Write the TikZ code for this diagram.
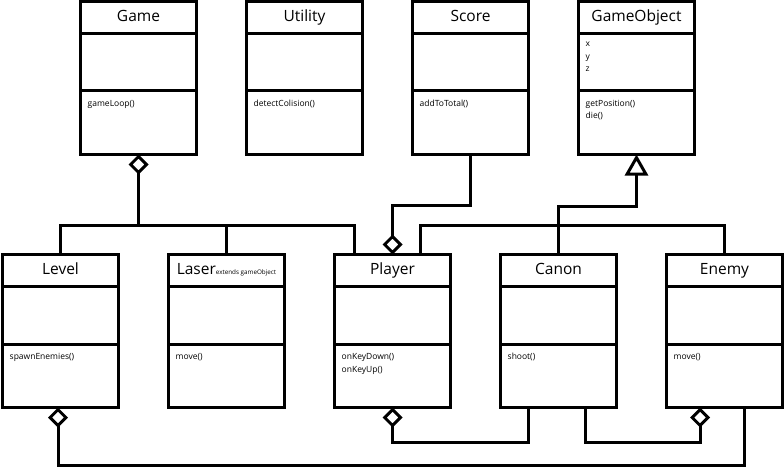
\documentclass[tikz,border=0pt]{standalone}
\usepackage{fontspec}
\setmainfont{Open Sans}
\usepackage{tikz}
\usetikzlibrary{arrows.meta,positioning,calc}
% one UML class: name, left, top, title, attributes, operations
\newcommand{\umlclass}[6]{%
  \node[classbox] (#1) at (#2,#3) {};
  \draw[classline] ([yshift=-32pt]#1.north west) -- ([yshift=-32pt]#1.north east);
  \draw[classline] ([yshift=-89.5pt]#1.north west) -- ([yshift=-89.5pt]#1.north east);
  \node[classtitle] (#1-title) at ([yshift=-20pt]#1.north) {#4};
  \node[classtext] (#1-attr) at ([xshift=7pt,yshift=-45.5pt]#1.north west)
    {\begin{tabular}[t]{@{}l@{}}#5\end{tabular}};
  \node[classtext] (#1-ops) at ([xshift=7pt,yshift=-105pt]#1.north west)
    {\begin{tabular}[t]{@{}l@{}}#6\end{tabular}};
}

\begin{document}
\begin{tikzpicture}[
  x=1pt, y=-1pt,
  classbox/.style={draw, line width=3pt, minimum width=116pt, minimum height=153pt, anchor=north west, inner sep=0pt, outer sep=0pt},
  classline/.style={line width=3pt},
  classtitle/.style={anchor=base, inner sep=0pt, font=\fontsize{15.5}{18}\selectfont},
  classtext/.style={anchor=base west, inner sep=0pt, font=\fontsize{8.5}{12.5}\selectfont},
  conn/.style={line width=3pt},
  agg/.style={line width=3pt, -{Diamond[open, fill=white, length=20pt, width=20pt]}},
  gen/.style={line width=3pt, -{Triangle[open, fill=white, length=21pt, width=23pt]}}
]
  \fill[white] (0,0) rectangle (784,468);
  \useasboundingbox (0,0) rectangle (784,468);

  % Top row
  \umlclass{game}{80.5}{1.5}{Game}{}{gameLoop()}
  \umlclass{utility}{246.5}{1.5}{Utility}{}{detectColision()}
  \umlclass{score}{412.5}{1.5}{Score}{}{addToTotal()}
  \umlclass{gameobj}{578.5}{1.5}{GameObject}{x\\y\\z}{getPosition()\\die()}

  % Bottom row
  \umlclass{level}{2.5}{254.5}{Level}{}{spawnEnemies()}
  \umlclass{laser}{168.5}{254.5}{Laser{\fontsize{6.3}{7}\selectfont extends gameObject}}{}{move()}
  \umlclass{player}{334.5}{254.5}{Player}{}{onKeyDown()\\onKeyUp()}
  \umlclass{canon}{500.5}{254.5}{Canon}{}{shoot()}
  \umlclass{enemy}{666.5}{254.5}{Enemy}{}{move()}

  % Game aggregation
  \draw[conn] (level.north) -- ++(0,-29) -| ([xshift=-38pt]player.north);
  \draw[conn] (laser.north) -- ++(0,-29);
  \draw[agg] (game.south) ++(0,71) -- (game.south);

  % Score aggregation
  \draw[agg] (score.south) -- ++(0,51) -| (player.north);

  % GameObject generalization
  \draw[gen] (canon.north) -- ++(0,-48) -| (gameobj.south);
  \draw[conn] ([xshift=28pt]player.north) -- ++(0,-29) -| (enemy.north);

  % Lower aggregations
  \draw[agg] ([xshift=-30.5pt]canon.south) -- ++(0,35) -| (player.south);
  \draw[agg] ([xshift=26.5pt]canon.south) -- ++(0,35) -| ([xshift=-24.5pt]enemy.south);
  \draw[agg] ([xshift=19.5pt]enemy.south) -- ++(0,58) -| ([xshift=-2.5pt]level.south);
\end{tikzpicture}
\end{document}
